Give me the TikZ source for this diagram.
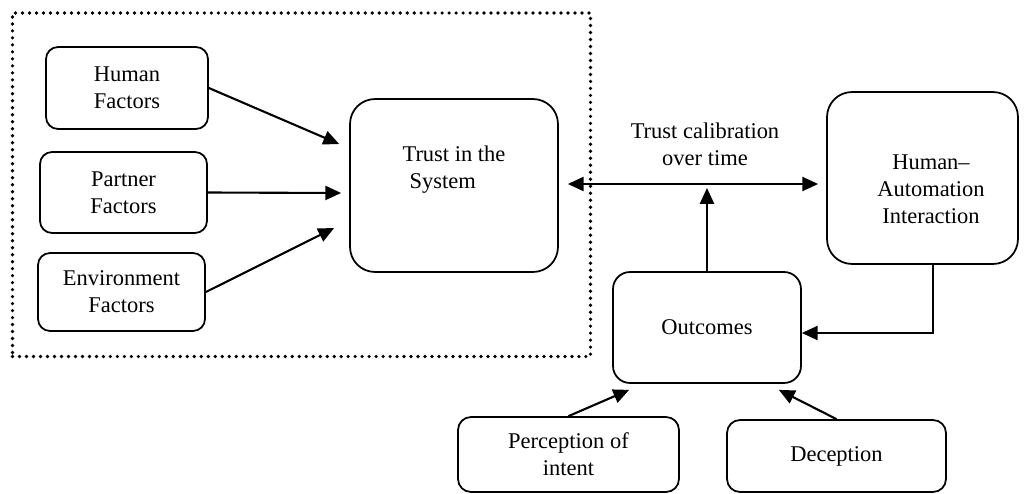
\documentclass[tikz,border=0pt]{standalone}
\usepackage{fontspec}
\setmainfont{Liberation Serif}
\usepackage{tikz}
\usetikzlibrary{arrows.meta, positioning, fit, calc}
\definecolor{colBorder}{RGB}{0,0,0}
\definecolor{colArrow}{RGB}{0,0,0}
\tikzset{
  box/.style={
    rectangle, rounded corners=0.24cm,
    draw=colBorder, line width=1pt,
    text centered, align=center,
    font=\fontsize{12.8}{15.3}\selectfont,
    inner sep=2pt
  },
  factorBox/.style={
    box,
    minimum width=3.3cm, minimum height=1.6cm
  },
  bigBox/.style={
    box, rounded corners=0.5cm,
    minimum width=4.0cm, minimum height=3.45cm
  },
  lbl/.style={
    font=\fontsize{12.8}{15.3}\selectfont, inner sep=0pt
  },
  arr/.style={
    -{Triangle[length=9pt, width=8pt]}, line width=1.2pt, color=colArrow
  },
  biarr/.style={
    arr, {Triangle[length=9pt, width=8pt]}-{Triangle[length=9pt, width=8pt]}
  },
  dotFrame/.style={
    draw=colBorder, line width=2.1pt, line cap=round,
    dash pattern=on 0pt off 3.98pt, inner sep=0pt
  }
}

\begin{document}
\begin{tikzpicture}[x=0.02cm, y=-0.02cm]
\useasboundingbox (0,0) rectangle (1029,494);

%% ==============================================================
%% Factors feeding trust
%% ==============================================================

% --- Factor boxes ---
\node[factorBox, minimum width=3.24cm, minimum height=1.64cm]
  (human) at (127,88) {Human\\Factors};
\node[factorBox, minimum width=3.34cm, minimum height=1.62cm]
  (partner) at (123.5,192.5) {Partner\\Factors};
\node[factorBox, minimum width=3.34cm, minimum height=1.56cm]
  (envir) at (121.5,292) {Environment\\Factors};

% --- Trust in the system ---
\node[bigBox, minimum width=4.16cm, minimum height=3.46cm]
  (trust) at (454,185.5) {};
\node[lbl, align=left] (trustTxt) at (454,170) {Trust in the\\\hspace*{0.14cm}System};

% --- Dotted bounding box ---
\coordinate (gTL) at (12.5,13);
\coordinate (gBR) at (590.5,356.5);
\node[dotFrame, fit=(gTL)(gBR)] (stageI) {};

%% ==============================================================
%% Interaction loop
%% ==============================================================

% --- Human-automation interaction ---
\node[bigBox, minimum width=3.82cm, minimum height=3.44cm]
  (hai) at (922.5,178) {};
\node[lbl, align=center] (haiTxt) at (931,189) {Human--\\Automation\\Interaction};

% --- Outcomes ---
\node[box, rounded corners=0.34cm, minimum width=3.76cm, minimum height=2.22cm]
  (outcomes) at (707,327.5) {Outcomes};

% --- Outcome modifiers ---
\node[box, rounded corners=0.26cm, minimum width=4.42cm, minimum height=1.5cm]
  (percept) at (568.5,454.5) {Perception of\\intent};
\node[box, rounded corners=0.26cm, minimum width=4.38cm, minimum height=1.44cm]
  (decept) at (836.5,456) {Deception};

%% ==============================================================
%%  ARROWS
%% ==============================================================

% Factors to trust
\draw[arr] (human.east) -- ($(trust.west)+(-10,-41.5)$);
\draw[arr] (partner.east) -- ($(trust.west)+(-8,7.5)$);
\draw[arr] (envir.east) -- ($(trust.west)+(-15,42.5)$);

% Trust <-> interaction, calibrated over time
\coordinate (calibL) at ($(trust.east)+(9,-1.5)$);
\coordinate (calibR) at ($(calibL -| hai.west)+(-8,0)$);
\draw[biarr] (calibL) -- (calibR);
\node[lbl, align=center] (calibLbl) at (705,144) {Trust calibration\\over time};

% Outcomes feed calibration
\draw[arr] (outcomes.north) -- ($(outcomes.north |- calibL)+(0,4)$);

% Interaction to outcomes
\draw[arr] ($(hai.south)+(10.5,0)$) |- ($(outcomes.east)+(0,5.5)$);

% Modifiers to outcomes
\draw[arr] (percept.north) -- ($(outcomes.south west)+(17,6)$);
\draw[arr] (decept.north) -- ($(outcomes.south east)+(-23,6)$);

\end{tikzpicture}
\end{document}
